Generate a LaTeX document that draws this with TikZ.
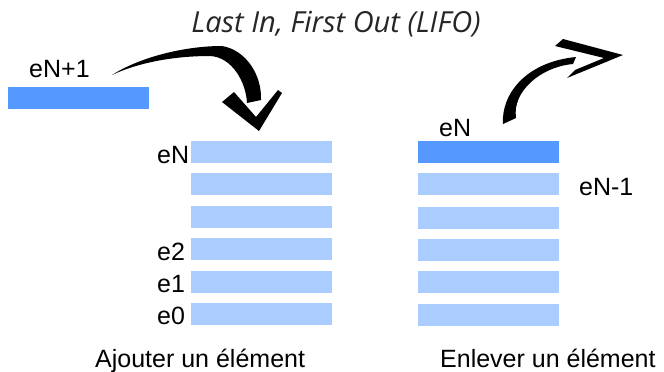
\documentclass[tikz,border=0pt]{standalone}
\usepackage{fontspec}
\setmainfont{Liberation Sans}
\newfontfamily\titlefont{Open Sans}
\definecolor{bardark}{HTML}{5599FF}
\definecolor{barlight}{HTML}{AACCFF}
\begin{document}
\begin{tikzpicture}[x=1pt,y=-1pt,
  bar/.style={fill=barlight,draw=none,minimum width=141pt,minimum height=22pt,inner sep=0pt,outer sep=0pt},
  topbar/.style={bar,fill=bardark},
  lbl/.style={anchor=base west,inner sep=0pt,font=\fontsize{25}{29}\selectfont},
  brush/.style={fill=black,draw=none}]
\useasboundingbox (0,0) rectangle (664,372);
% title
\node[anchor=base,inner sep=0pt,font=\titlefont\itshape\fontsize{29}{33}\selectfont,text=black!85] (title) at (336,32) {Last In, First Out (LIFO)};
% new element
\node[topbar] (new) at (78.5,98) {};
\node[lbl] (lnew) at (29,77) {eN+1};
% left stack
\node[bar] (l5) at (261.5,152) {};
\node[bar] (l4) at (261.5,184) {};
\node[bar] (l3) at (261.5,217) {};
\node[bar] (l2) at (261.5,249) {};
\node[bar] (l1) at (261.5,282) {};
\node[bar] (l0) at (261.5,314) {};
\node[lbl] (tl5) at (157,163) {eN};
\node[lbl] (tl2) at (157,260) {e2};
\node[lbl] (tl1) at (157,292) {e1};
\node[lbl] (tl0) at (157,324) {e0};
% right stack
\node[topbar] (r5) at (488.5,152) {};
\node[bar] (r4) at (488.5,184) {};
\node[bar] (r3) at (488.5,218) {};
\node[bar] (r2) at (488.5,250) {};
\node[bar] (r1) at (488.5,282) {};
\node[bar] (r0) at (488.5,315) {};
\node[lbl] (tr5) at (439,136) {eN};
\node[lbl] (tr4) at (579,195) {eN-1};
% captions
\node[lbl] (capl) at (95,367) {Ajouter un élément};
\node[lbl] (capr) at (440,367) {Enlever un élément};
% left brush arrow
\fill[brush] (112,75) .. controls (140,57) and (185,46) .. (222,46)
  .. controls (246,50) and (262,75) .. (261,100)
  -- (247,103) .. controls (246,82) and (232,57) .. (210,56)
  .. controls (170,56) and (135,64) .. cycle;
\fill[brush] (222,102) -- (234,92) -- (256,117) -- (278,90) -- (282,93) -- (259,131) -- cycle;
% right brush arrow
\fill[brush] (503,124) .. controls (501,95) and (525,62) .. (576,57)
  -- (573,64) .. controls (540,67) and (512,92) .. (516,118) -- cycle;
\fill[brush] (555,46) -- (563,39) -- (623,55) -- (567,78) -- (575,70) -- (604,58) -- cycle;
\end{tikzpicture}
\end{document}
